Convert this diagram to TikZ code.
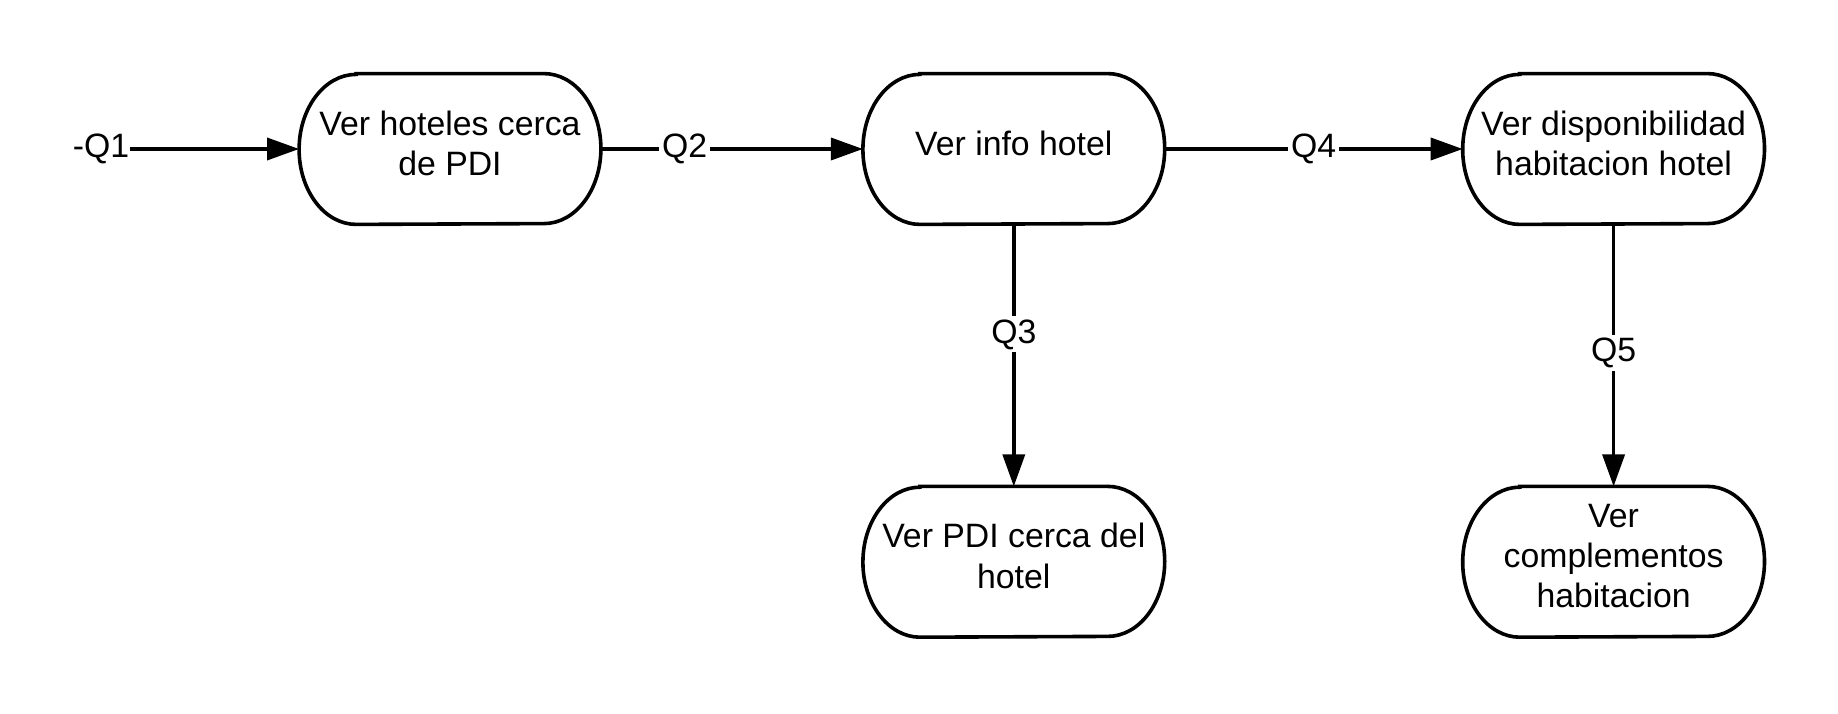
\documentclass[tikz,border=0pt]{standalone}
\usepackage{fontspec}
\setmainfont{Liberation Sans}
\usetikzlibrary{arrows.meta,positioning}

\begin{document}
\begin{tikzpicture}[x=0.5pt,y=0.5pt,font=\fontsize{16.9}{20.2}\selectfont,
  term/.style={minimum width=150.5pt,minimum height=75pt,inner sep=2pt,
               text depth=6pt,align=center},
  outl/.style={line width=1.8pt,draw=black},
  ar/.style={-{Triangle[length=16pt,width=11pt]},line width=1.8pt},
  lbl/.style={fill=white,inner sep=1.5pt}]
\useasboundingbox (0,0) rectangle (1838,713);
\node[term] (b1) at (450,564) {Ver hoteles cerca\\de PDI};
\node[term,right=131pt of b1] (b2) {Ver info hotel};
\node[term,right=149pt of b2] (b3) {Ver disponibilidad\\habitacion hotel};
\node[term,below=131pt of b2] (b4) {Ver PDI cerca del\\hotel};
\node[term,below=131pt of b3] (b5) {Ver\\complementos\\habitacion};
\node[inner sep=0pt] (q1) at (101,564) {-Q1};
% outlines: flat top and bottom, half-ellipse sides
\foreach \n in {b1,b2,b3,b4,b5}
  \draw[outl] ([xshift=28.5pt]\n.north west) -- ([xshift=-28.5pt]\n.north east)
    arc[start angle=90,end angle=-90,x radius=28.5pt,y radius=37.5pt]
    -- ([xshift=28.5pt]\n.south west)
    arc[start angle=270,end angle=90,x radius=28.5pt,y radius=37.5pt] -- cycle;
\draw[ar] (q1) -- (b1);
\draw[ar] (b1) -- node[lbl,pos=0.32]{Q2} (b2);
\draw[ar] (b2) -- node[lbl,pos=0.5]{Q4} (b3);
\draw[ar] (b2) -- node[lbl,pos=0.42]{Q3} (b4);
\draw[ar] (b3) -- node[lbl,pos=0.49]{Q5} (b5);
\end{tikzpicture}
\end{document}
